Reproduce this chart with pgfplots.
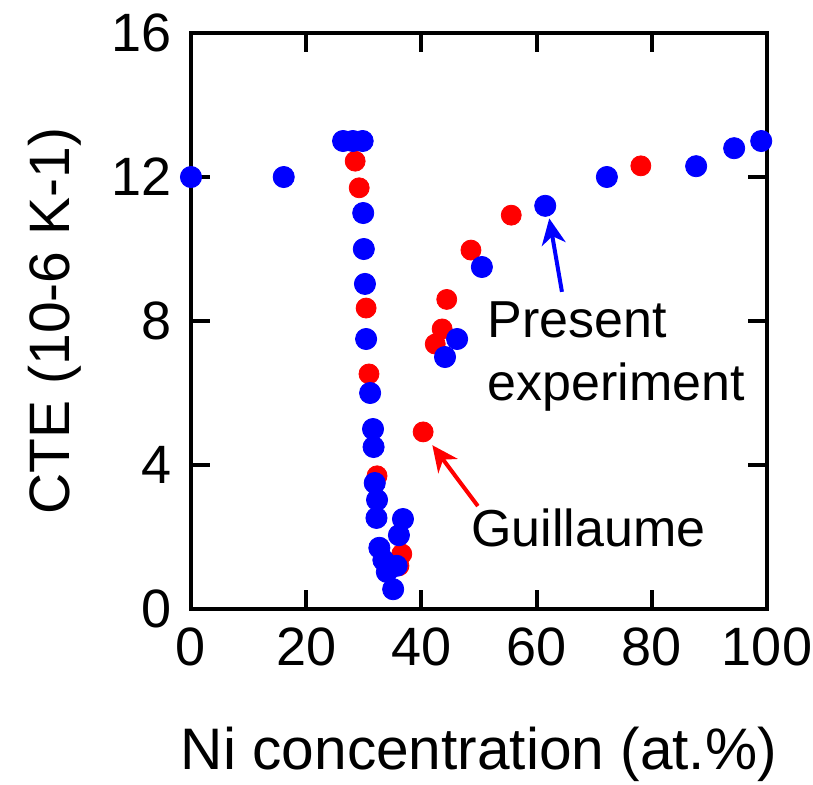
\documentclass[border=0pt]{standalone}
\usepackage{fontspec}
\setmainfont{Liberation Sans}
\usepackage{pgfplots}
\pgfplotsset{compat=1.18}
\usetikzlibrary{arrows.meta}
\definecolor{pblue}{RGB}{0,0,255}
\definecolor{pred}{RGB}{255,0,0}
\begin{document}
\begin{tikzpicture}
\begin{axis}[
  at={(0,0)}, anchor=south west,
  width=288pt, height=288pt, scale only axis,
  xmin=0, xmax=100, ymin=0, ymax=16,
  xtick={0,20,40,60,80,100}, ytick={0,4,8,12,16},
  tick align=inside, major tick length=9.5pt,
  axis line style={line width=2pt},
  every tick/.style={line width=2pt, black},
  /pgf/number format/assume math mode=true,
  ticklabel style={font=\fontsize{27pt}{30pt}\selectfont},
  xticklabel style={yshift=-6pt},
  yticklabel style={xshift=-6pt},
  xlabel={Ni concentration (at.\%)},
  ylabel={CTE (10-6 K-1)},
  xlabel style={font=\fontsize{29.3pt}{32pt}\selectfont, at={(axis description cs:0.5,0)}, anchor=base, yshift=-80pt},
  ylabel style={font=\fontsize{28.5pt}{32pt}\selectfont, at={(axis description cs:0,0.5)}, anchor=base, yshift=60.5pt},
  clip=false,
]
\addplot[only marks, mark=*, mark size=5pt, color=pred, mark options={draw=pred, fill=pred}] coordinates {
(28.5,12.44) (29.2,11.7) (30.4,8.36) (30.9,6.53) (32.3,3.7) (36.6,1.53) (36.1,1.2)
(40.3,4.92) (42.4,7.36) (43.6,7.78) (44.4,8.6) (48.6,9.97) (55.6,10.94) (78.1,12.31)
};
\addplot[only marks, mark=*, mark size=5.3pt, color=pblue, mark options={draw=pblue, fill=pblue}] coordinates {
(0,12) (16.1,12) (26.4,13) (28.1,13) (29.8,13) (29.9,11.0) (30.0,10.0) (30.2,9.03)
(30.4,7.5) (31.1,6.0) (31.6,5.0) (31.7,4.5) (31.9,3.5) (32.3,3.03) (32.2,2.53)
(32.7,1.7) (33.4,1.36) (34.0,1.03) (35.1,0.55) (35.7,1.2) (36.1,2.05) (36.8,2.5)
(44.1,7.0) (46.2,7.5) (50.5,9.5) (61.5,11.2) (72.2,12.0) (87.7,12.3) (94.3,12.8) (99.0,13.0)
};
\draw[pblue, line width=2pt, -{Stealth[length=13pt,width=12pt,inset=4pt]}] (axis cs:64.4,8.81) -- (axis cs:62.2,10.85);
\draw[pred, line width=2pt, -{Stealth[length=13pt,width=12pt,inset=4pt]}] (axis cs:49.8,2.86) -- (axis cs:41.9,4.55);
\node[anchor=base west, inner sep=0pt, font=\fontsize{26pt}{30pt}\selectfont] at (axis cs:51.4,7.53) {Present};
\node[anchor=base west, inner sep=0pt, font=\fontsize{26pt}{30pt}\selectfont] at (axis cs:51.4,5.8) {experiment};
\node[anchor=base west, inner sep=0pt, font=\fontsize{26pt}{30pt}\selectfont] at (axis cs:48.6,1.75) {Guillaume};
\end{axis}
\pgfresetboundingbox
\path (-95.5pt,-87.5pt) rectangle (311pt,304.5pt);
\end{tikzpicture}
\end{document}
